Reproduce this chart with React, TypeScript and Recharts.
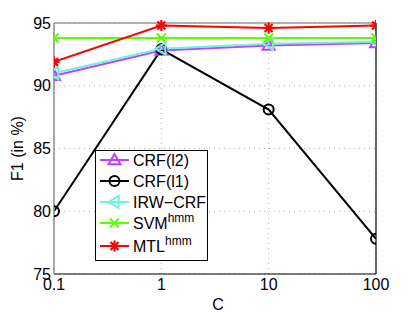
import React from "react"
import { LineChart, Line, XAxis, YAxis, CartesianGrid, Legend, ReferenceLine, Label } from "recharts"

const C_VALUES = [0.1, 1, 10, 100]
const CRF_L2 = [90.8, 92.8, 93.2, 93.4]
const CRF_L1 = [80.0, 92.9, 88.1, 77.8]
const IRW_CRF = [91.0, 92.95, 93.35, 93.5]
const SVM_HMM = [93.8, 93.8, 93.8, 93.8]
const MTL_HMM = [91.9, 94.8, 94.6, 94.8]
const Y_TICKS = [75, 80, 85, 90, 95]

const FONT = "'Liberation Sans', Arial, Helvetica, sans-serif"

const SERIES = [
  { key: "l2", name: "CRF(l2)", sup: "", color: "#bf40ff", marker: "triUp" },
  { key: "l1", name: "CRF(l1)", sup: "", color: "#000000", marker: "circle" },
  { key: "irw", name: "IRW\u2212CRF", sup: "", color: "#70f2dc", marker: "triLeft" },
  { key: "svm", name: "SVM", sup: "hmm", color: "#5cff00", marker: "x" },
  { key: "mtl", name: "MTL", sup: "hmm", color: "#ff0000", marker: "star" },
]

const data = C_VALUES.map((c, i) => ({
  c,
  l2: CRF_L2[i],
  l1: CRF_L1[i],
  irw: IRW_CRF[i],
  svm: SVM_HMM[i],
  mtl: MTL_HMM[i],
}))

function Marker({ type, cx, cy, color }: { type: string; cx: number; cy: number; color: string }) {
  if (type === "circle") {
    return <circle cx={cx} cy={cy} r={5} fill="none" stroke={color} strokeWidth={2} />
  }
  if (type === "triUp") {
    const s = 6
    return (
      <polygon
        points={`${cx},${cy - s} ${cx - s},${cy + s * 0.7} ${cx + s},${cy + s * 0.7}`}
        fill="none" stroke={color} strokeWidth={2} strokeLinejoin="miter"
      />
    )
  }
  if (type === "triLeft") {
    const s = 6
    return (
      <polygon
        points={`${cx - s},${cy} ${cx + s * 0.7},${cy - s} ${cx + s * 0.7},${cy + s}`}
        fill="none" stroke={color} strokeWidth={2}
      />
    )
  }
  if (type === "x") {
    const s = 4.5
    return (
      <g stroke={color} strokeWidth={2}>
        <line x1={cx - s} y1={cy - s} x2={cx + s} y2={cy + s} />
        <line x1={cx - s} y1={cy + s} x2={cx + s} y2={cy - s} />
      </g>
    )
  }
  // star: MATLAB '*'
  const s = 5.5
  const d = s * 0.72
  return (
    <g stroke={color} strokeWidth={2.2}>
      <line x1={cx - s} y1={cy} x2={cx + s} y2={cy} />
      <line x1={cx} y1={cy - s} x2={cx} y2={cy + s} />
      <line x1={cx - d} y1={cy - d} x2={cx + d} y2={cy + d} />
      <line x1={cx - d} y1={cy + d} x2={cx + d} y2={cy - d} />
    </g>
  )
}

const makeDot = (type: string, color: string) => (props: any) => (
  <Marker key={`${type}-${props.index}`} type={type} cx={props.cx} cy={props.cy} color={color} />
)

const LEGEND_ROWS = [10, 31, 52, 73, 96]

function LegendBox() {
  return (
    <svg width={113} height={111} style={{ display: "block" }}>
      <rect x={0.5} y={0.5} width={112} height={110} fill="#fff" stroke="#000" strokeWidth={1} />
      {SERIES.map((s, i) => {
        const y = LEGEND_ROWS[i]
        return (
          <g key={s.key}>
            <line x1={5} x2={34} y1={y} y2={y} stroke={s.color} strokeWidth={2} />
            <Marker type={s.marker} cx={19.5} cy={y} color={s.color} />
            <text x={38} y={y + 6} fontFamily={FONT} fontSize={16} fill="#000">
              {s.name}
              {s.sup ? (
                <tspan dy={-7} fontSize={12}>{s.sup}</tspan>
              ) : null}
            </text>
          </g>
        )
      })}
    </svg>
  )
}

export default function App() {
  return (
    <div style={{ position: "absolute", left: 0, top: 0, width: 415, height: 312, background: "#fff" }}>
      <LineChart width={415} height={312} data={data} margin={{ top: 23, right: 39, left: 0, bottom: 0 }}>
        <CartesianGrid stroke="#b0b0b0" strokeDasharray="1 4" />
        <XAxis
          dataKey="c"
          type="number"
          scale="log"
          domain={[0.1, 100]}
          ticks={C_VALUES}
          allowDataOverflow
          height={38}
          axisLine={{ stroke: "#000", strokeWidth: 1.2 }}
          tickLine={false}
          tickSize={0}
          tickMargin={5}
          tick={{ fontFamily: FONT, fontSize: 16, fill: "#000" }}
          tickFormatter={(v: number) => String(v)}
        >
          <Label value="C" position="insideBottom" offset={2} dx={3} style={{ fontFamily: FONT, fontSize: 16, fill: "#000" }} />
        </XAxis>
        <YAxis
          type="number"
          domain={[75, 95]}
          ticks={Y_TICKS}
          width={54}
          axisLine={{ stroke: "#8c8c8c", strokeWidth: 1.5 }}
          tickLine={false}
          tickSize={0}
          tickMargin={3}
          tick={{ fontFamily: FONT, fontSize: 16, fill: "#000" }}
        >
          <Label
            content={() => (
              <text
                x={17}
                y={148.5}
                transform="rotate(-90 17 148.5)"
                textAnchor="middle"
                dominantBaseline="central"
                fontFamily={FONT}
                fontSize={16}
                fill="#000"
              >
                F1 (in %)
              </text>
            )}
          />
        </YAxis>
        <ReferenceLine y={95} stroke="#999" strokeWidth={1.5} />
        <ReferenceLine x={100} stroke="#000" strokeWidth={1.2} />
        {SERIES.map((s) => (
          <Line
            key={s.key}
            dataKey={s.key}
            name={s.name}
            stroke={s.color}
            strokeWidth={2}
            dot={makeDot(s.marker, s.color)}
            activeDot={false}
            isAnimationActive={false}
          />
        ))}
        <Legend
          layout="vertical"
          align="center"
          verticalAlign="middle"
          wrapperStyle={{ left: 95, top: 150, width: 113, height: 111 }}
          content={() => <LegendBox />}
        />
      </LineChart>
    </div>
  )
}
